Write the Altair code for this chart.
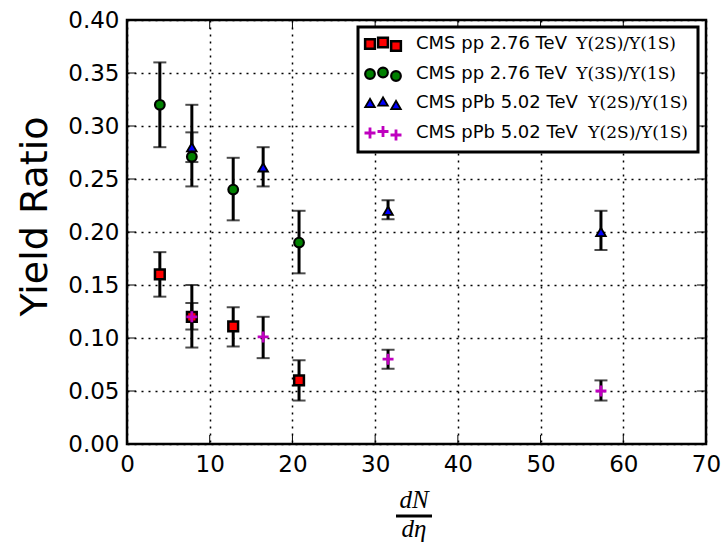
import altair as alt
import pandas as pd

# ---------------- data ----------------
series_keys = ["pp2S", "pp3S", "pPb2S", "pPb2Sb"]
series_sans = ["CMS pp 2.76 TeV", "CMS pp 2.76 TeV", "CMS pPb 5.02 TeV", "CMS pPb 5.02 TeV"]
series_math = ["Υ(2S)/Υ(1S)", "Υ(3S)/Υ(1S)", "Υ(2S)/Υ(1S)", "Υ(2S)/Υ(1S)"]

pp2s_x = [3.97, 7.84, 12.84, 20.8]
pp2s_y = [0.160, 0.120, 0.111, 0.060]
pp2s_lo = [0.139, 0.091, 0.092, 0.041]
pp2s_hi = [0.181, 0.150, 0.129, 0.079]

pp3s_x = [3.97, 7.84, 12.84, 20.8]
pp3s_y = [0.320, 0.271, 0.240, 0.190]
pp3s_lo = [0.280, 0.243, 0.211, 0.161]
pp3s_hi = [0.360, 0.320, 0.270, 0.220]

ppb_a_x = [7.84, 16.46, 31.56, 57.3]
ppb_a_y = [0.280, 0.261, 0.220, 0.200]
ppb_a_lo = [0.266, 0.243, 0.212, 0.183]
ppb_a_hi = [0.294, 0.280, 0.230, 0.220]

ppb_b_x = [7.84, 16.46, 31.56, 57.3]
ppb_b_y = [0.120, 0.101, 0.080, 0.050]
ppb_b_lo = [0.108, 0.081, 0.071, 0.041]
ppb_b_hi = [0.133, 0.120, 0.089, 0.060]

x_ticks = [0, 10, 20, 30, 40, 50, 60, 70]
y_ticks = [0.00, 0.05, 0.10, 0.15, 0.20, 0.25, 0.30, 0.35, 0.40]

# ---------------- styles ----------------
W, H = 579, 424
PLUS = "M-1,-0.14H-0.14V-1H0.14V-0.14H1V0.14H0.14V1H-0.14V0.14H-1Z"
shapes = ["square", "circle", "triangle-up", PLUS]
fills = ["#ff0000", "#008000", "#0000ff", "#bf00bf"]
strokes = ["black", "black", "black", "#bf00bf"]
swidths = [2.5, 1.5, 1.5, 0.5]
sizes = [95, 90, 100, 110]

rows = []
# draw order: triangles, squares, circles, pluses
for key, xs, ys, lo, hi in [
    ("pPb2S", ppb_a_x, ppb_a_y, ppb_a_lo, ppb_a_hi),
    ("pp2S", pp2s_x, pp2s_y, pp2s_lo, pp2s_hi),
    ("pp3S", pp3s_x, pp3s_y, pp3s_lo, pp3s_hi),
    ("pPb2Sb", ppb_b_x, ppb_b_y, ppb_b_lo, ppb_b_hi),
]:
    for i in range(len(xs)):
        rows.append({"key": key, "x": xs[i], "y": ys[i], "lo": lo[i], "hi": hi[i]})
df = pd.DataFrame(rows)

xscale = alt.Scale(domain=[0, 70], nice=False, zero=False)
yscale = alt.Scale(domain=[0, 0.4], nice=False, zero=False)

shape_enc = alt.Shape("key:N", scale=alt.Scale(domain=series_keys, range=shapes), legend=None)
fill_enc = alt.Fill("key:N", scale=alt.Scale(domain=series_keys, range=fills), legend=None)
stroke_enc = alt.Stroke("key:N", scale=alt.Scale(domain=series_keys, range=strokes), legend=None)
sw_enc = alt.StrokeWidth("key:N", scale=alt.Scale(domain=series_keys, range=swidths), legend=None)
size_enc = alt.Size("key:N", scale=alt.Scale(domain=series_keys, range=sizes), legend=None)

base = alt.Chart(df)

frame = base.mark_point(opacity=0).encode(
    x=alt.X("x:Q", scale=xscale, title=None,
            axis=alt.Axis(values=x_ticks, format="d", grid=True, ticks=False, domain=False,
                          labelPadding=9, labelFlush=False, labelOverlap=False)),
    y=alt.Y("y:Q", scale=yscale, title="Yield Ratio",
            axis=alt.Axis(values=y_ticks, format=".2f", grid=True, ticks=False, domain=False,
                          labelPadding=8, labelFlush=False, labelOverlap=False,
                          titleX=-81, titleY=196, titleAngle=-90,
                          titleAlign="center", titleBaseline="alphabetic")),
)

err = base.mark_rule(color="black", strokeWidth=3).encode(
    x=alt.X("x:Q", scale=xscale), y=alt.Y("lo:Q", scale=yscale), y2="hi:Q")
cap_lo = base.mark_tick(orient="horizontal", color="black", size=13, thickness=2).encode(
    x=alt.X("x:Q", scale=xscale), y=alt.Y("lo:Q", scale=yscale))
cap_hi = base.mark_tick(orient="horizontal", color="black", size=13, thickness=2).encode(
    x=alt.X("x:Q", scale=xscale), y=alt.Y("hi:Q", scale=yscale))

pts = base.mark_point(filled=True, opacity=1, strokeOpacity=1, fillOpacity=1).encode(
    x=alt.X("x:Q", scale=xscale), y=alt.Y("y:Q", scale=yscale),
    shape=shape_enc, fill=fill_enc, stroke=stroke_enc, strokeWidth=sw_enc, size=size_enc)

# inward ticks on all four sides
xt = alt.Chart(pd.DataFrame({"v": x_ticks}))
yt = alt.Chart(pd.DataFrame({"v": y_ticks}))
tick_b = xt.mark_rule(color="black", strokeWidth=1).encode(
    x=alt.X("v:Q", scale=xscale), y=alt.value(H), y2=alt.value(H - 9))
tick_t = xt.mark_rule(color="black", strokeWidth=1).encode(
    x=alt.X("v:Q", scale=xscale), y=alt.value(0), y2=alt.value(9))
tick_l = yt.mark_rule(color="black", strokeWidth=1).encode(
    y=alt.Y("v:Q", scale=yscale), x=alt.value(0), x2=alt.value(9))
tick_r = yt.mark_rule(color="black", strokeWidth=1).encode(
    y=alt.Y("v:Q", scale=yscale), x=alt.value(W), x2=alt.value(W - 9))

# ---------------- custom legend ----------------
lx0, lx1, ly0, ly1 = 231, 571, 7, 132
row_y = [24, 54, 83, 113]
mk_x = [243, 256, 269]
mk_dy = [0, -1.5, 2]
leg_rows = []
for k, key in enumerate(series_keys):
    for j in range(3):
        leg_rows.append({"key": key, "px": mk_x[j], "py": row_y[k] + mk_dy[j]})
leg_df = pd.DataFrame(leg_rows)

leg_box = alt.Chart(pd.DataFrame({"a": [0]})).mark_rect(
    fill="white", stroke="black", strokeWidth=3).encode(
    x=alt.value(lx0), x2=alt.value(lx1), y=alt.value(ly0), y2=alt.value(ly1))
leg_pts = alt.Chart(leg_df).mark_point(filled=True, opacity=1).encode(
    x=alt.X("px:Q", scale=None), y=alt.Y("py:Q", scale=None),
    shape=shape_enc, fill=fill_enc, stroke=stroke_enc, strokeWidth=sw_enc, size=size_enc)

txt_df = pd.DataFrame({
    "sans": series_sans, "math": series_math, "py": row_y,
    "mx": [549, 549, 561, 561],
})
leg_sans = alt.Chart(txt_df).mark_text(
    align="left", baseline="middle", font="DejaVu Sans", fontSize=18, color="black").encode(
    x=alt.value(289), y=alt.Y("py:Q", scale=None), text="sans:N")
leg_math = alt.Chart(txt_df).mark_text(
    align="right", baseline="middle", font="DejaVu Serif", fontSize=17, color="black").encode(
    x=alt.X("mx:Q", scale=None), y=alt.Y("py:Q", scale=None), text="math:N")

# ---------------- x-axis title as a fraction ----------------
one = alt.Chart(pd.DataFrame({"a": [0]}))
num = one.mark_text(text="dN", font="Liberation Serif", fontStyle="italic", fontSize=25,
                    align="center", baseline="alphabetic", color="black").encode(
    x=alt.value(287), y=alt.value(488))
den = one.mark_text(text="dη", font="Liberation Serif", fontStyle="italic", fontSize=25,
                    align="center", baseline="alphabetic", color="black").encode(
    x=alt.value(287), y=alt.value(517))
bar = one.mark_rule(color="black", strokeWidth=3).encode(
    x=alt.value(269), x2=alt.value(305), y=alt.value(496))

chart = alt.layer(
    frame, err, cap_lo, cap_hi, pts, tick_b, tick_t, tick_l, tick_r,
    leg_box, leg_pts, leg_sans, leg_math, num, den, bar,
).properties(
    width=W, height=H,
    autosize=alt.AutoSizeParams(type="none"),
    padding={"left": 127, "top": 20, "right": 19, "bottom": 100},
).configure(
    background="white",
).configure_view(
    stroke="black", strokeWidth=2.5,
).configure_axis(
    labelFont="DejaVu Sans", labelFontSize=23, labelColor="black",
    titleFont="DejaVu Sans", titleFontSize=38, titleFontWeight="normal", titleColor="black",
    gridColor="black", gridDash=[2, 5], gridWidth=1.5, gridOpacity=1,
)

chart.save("out.html", embed_options={"renderer": "svg", "actions": False})
